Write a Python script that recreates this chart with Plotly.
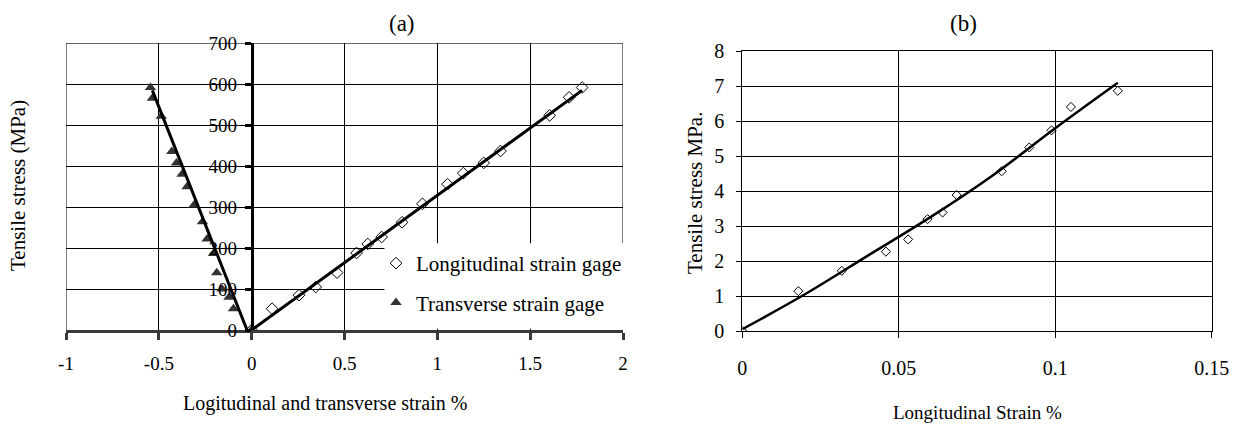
import plotly.graph_objects as go

W, H = 1239, 426
FONT = "Liberation Serif, Times New Roman, serif"

# (a) strain-gage readings, strain in %, stress in MPa
long_strain = [0, 0.11, 0.255, 0.345, 0.46, 0.565, 0.625, 0.70, 0.81, 0.92,
               1.055, 1.14, 1.25, 1.34, 1.605, 1.71, 1.78]
long_stress = [0, 52, 85, 105, 140, 188, 210, 227, 263, 308,
               356, 383, 408, 437, 524, 568, 592]

trans_strain = [0, -0.098, -0.122, -0.16, -0.188, -0.205, -0.24, -0.265, -0.31,
                -0.348, -0.375, -0.405, -0.43, -0.487, -0.535, -0.545]
trans_stress = [0, 52, 80, 100, 140, 187, 222, 264, 305,
                350, 380, 408, 436, 522, 566, 592]

# linear trend lines for (a)
long_fit_strain = [0, 1.78]
long_fit_stress = [0, 585]
trans_fit_strain = [-0.025, -0.535]
trans_fit_stress = [0, 585]

# (b) longitudinal strain vs tensile stress
b_strain = [0, 0.0179, 0.0318, 0.0459, 0.053, 0.0592, 0.064, 0.0685,
            0.0829, 0.0917, 0.0988, 0.105, 0.120]
b_stress = [0, 1.14, 1.72, 2.27, 2.62, 3.2, 3.39, 3.89,
            4.57, 5.25, 5.74, 6.41, 6.87]
b_fit_strain = [0, 0.02, 0.04, 0.06, 0.08, 0.10, 0.12]
b_fit_stress = [0.05, 1.05, 2.15, 3.25, 4.45, 5.8, 7.1]

# tick labels
a_xticks = [-1, -0.5, 0, 0.5, 1, 1.5, 2]
a_xtext = ["-1", "-0.5", "0", "0.5", "1", "1.5", "2"]
a_yticks = [0, 100, 200, 300, 400, 500, 600, 700]
b_xticks = [0, 0.05, 0.1, 0.15]
b_xtext = ["0", "0.05", "0.1", "0.15"]
b_yticks = [0, 1, 2, 3, 4, 5, 6, 7, 8]

# region of panel (a) kept clear behind the legend
legend_box_x = [0.715, 2.01]
legend_box_y = [3, 212]


def px_x(p):
    return p / W


def px_y(p):
    return 1 - p / H


fig = go.Figure()

# (a) markers
fig.add_trace(go.Scatter(
    x=long_strain, y=long_stress, mode="markers",
    name="Longitudinal strain gage", legendgroup="l",
    marker=dict(symbol="diamond-open", size=9, color="black", line=dict(width=1, color="black")),
    xaxis="x", yaxis="y"))
fig.add_trace(go.Scatter(
    x=trans_strain, y=trans_stress, mode="markers",
    name="Transverse strain gage", legendgroup="t",
    marker=dict(symbol="triangle-up", size=10, color="#333333"),
    xaxis="x", yaxis="y"))
fig.add_trace(go.Scatter(
    x=long_fit_strain, y=long_fit_stress, mode="lines", showlegend=False,
    line=dict(color="black", width=3), xaxis="x", yaxis="y"))
fig.add_trace(go.Scatter(
    x=trans_fit_strain, y=trans_fit_stress, mode="lines", showlegend=False,
    line=dict(color="black", width=3), xaxis="x", yaxis="y"))

# (b)
fig.add_trace(go.Scatter(
    x=b_strain, y=b_stress, mode="markers", showlegend=False,
    marker=dict(symbol="diamond-open", size=7, color="black", line=dict(width=1, color="black")),
    xaxis="x2", yaxis="y2"))
fig.add_trace(go.Scatter(
    x=b_fit_strain, y=b_fit_stress, mode="lines", showlegend=False,
    line=dict(color="black", width=2.5, shape="spline"), xaxis="x2", yaxis="y2"))

tick_font_a = dict(family=FONT, size=19, color="black")
tick_font_b = dict(family=FONT, size=20, color="black")

fig.update_layout(
    width=W, height=H, autosize=False,
    margin=dict(l=0, r=0, t=0, b=0),
    paper_bgcolor="white", plot_bgcolor="white",
    font=dict(family=FONT, color="black"),
    xaxis=dict(
        domain=[px_x(66), px_x(623)], range=[-1, 2], anchor="y",
        tickmode="array", tickvals=a_xticks, ticktext=a_xtext,
        showgrid=True, gridcolor="black", gridwidth=1, zeroline=False,
        showline=True, linecolor="#3a3a3a", linewidth=3,
        ticks="outside", ticklen=7, tickwidth=3, tickcolor="#3a3a3a",
        tickfont=tick_font_a, ticklabelstandoff=7, automargin=False),
    yaxis=dict(
        domain=[px_y(330), px_y(43.3)], range=[0, 700],
        anchor="free", position=px_x(251.7),
        tickmode="array", tickvals=a_yticks,
        showgrid=True, gridcolor="black", gridwidth=1, zeroline=False,
        showline=True, linecolor="black", linewidth=3,
        ticks="outside", ticklen=6, tickwidth=3, tickcolor="black",
        tickfont=tick_font_a, ticklabelstandoff=4, automargin=False),
    xaxis2=dict(
        domain=[px_x(742.3), px_x(1211.7)], range=[0, 0.15], anchor="y2",
        tickmode="array", tickvals=b_xticks, ticktext=b_xtext,
        showgrid=True, gridcolor="black", gridwidth=1, zeroline=False,
        showline=True, linecolor="black", linewidth=1, mirror=True,
        ticks="outside", ticklen=6, tickwidth=1, tickcolor="black",
        tickfont=tick_font_b, ticklabelstandoff=13, automargin=False),
    yaxis2=dict(
        domain=[px_y(331), px_y(51.3)], range=[0, 8], anchor="x2",
        tickmode="array", tickvals=b_yticks,
        showgrid=True, gridcolor="black", gridwidth=1, zeroline=False,
        showline=True, linecolor="black", linewidth=1, mirror=True,
        ticks="outside", ticklen=5, tickwidth=1, tickcolor="black",
        tickfont=tick_font_b, ticklabelstandoff=8, automargin=False),
    legend=dict(
        x=px_x(376), y=px_y(243), xanchor="left", yanchor="top",
        bgcolor="rgba(0,0,0,0)", borderwidth=0,
        font=dict(family=FONT, size=21, color="black"),
        tracegroupgap=9, traceorder="grouped"),
    showlegend=True,
)

# frame of panel (a): left edge, top edge and the right edge above the legend
fig.add_shape(type="line", xref="x", yref="y", x0=-1, x1=-1, y0=0, y1=700,
              line=dict(color="black", width=1), layer="below")
fig.add_shape(type="line", xref="x", yref="y", x0=-1, x1=2, y0=700, y1=700,
              line=dict(color="black", width=1), layer="below")
fig.add_shape(type="line", xref="x", yref="y", x0=2, x1=2, y0=legend_box_y[1], y1=700,
              line=dict(color="black", width=1), layer="below")

# white panel behind the legend, hiding the grid there
fig.add_shape(type="rect", xref="x", yref="y",
              x0=legend_box_x[0], x1=legend_box_x[1], y0=legend_box_y[0], y1=legend_box_y[1],
              fillcolor="white", line=dict(width=0), layer="above")

ann_font = dict(family=FONT, size=20, color="black")
annotations = [
    dict(text="(a)", x=px_x(402), y=px_y(23), font=dict(family=FONT, size=23, color="black")),
    dict(text="(b)", x=px_x(963), y=px_y(23), font=dict(family=FONT, size=23, color="black")),
    dict(text="Logitudinal and transverse strain %", x=px_x(325), y=px_y(403), font=ann_font),
    dict(text="Tensile stress (MPa)", x=px_x(18), y=px_y(186), textangle=-90,
         font=dict(family=FONT, size=21, color="black")),
    dict(text="Longitudinal Strain %", x=px_x(977), y=px_y(412), font=dict(family=FONT, size=19, color="black")),
    dict(text="Tensile stress MPa.", x=px_x(695), y=px_y(193), textangle=-90,
         font=dict(family=FONT, size=21, color="black")),
]
for a in annotations:
    a.update(xref="paper", yref="paper", xanchor="center", yanchor="middle", showarrow=False)
    fig.add_annotation(**a)

fig.write_html("out.html")
